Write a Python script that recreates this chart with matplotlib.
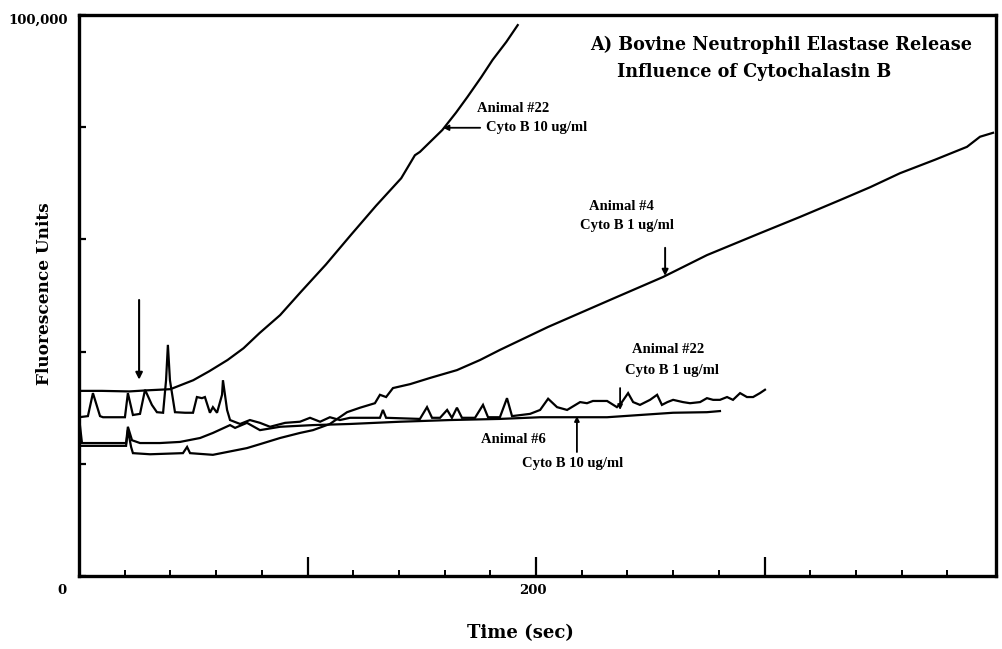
import matplotlib
matplotlib.use("Agg")
import matplotlib.pyplot as plt
from matplotlib.ticker import FixedLocator, NullFormatter, MultipleLocator

# ---- data (time in sec, fluorescence units) ----
a22_10_t = [0, 10, 22, 30, 40, 50, 57, 65, 72, 79, 88, 97, 108, 119, 130, 141, 147, 149.2, 159, 165, 170, 176, 181, 187, 192]
a22_10_v = [33000, 33000, 32900, 33100, 33300, 34900, 36500, 38500, 40600, 43300, 46500, 50600, 55500, 60800,
            66000, 70900, 75000, 75600, 79500, 82600, 85400, 88900, 92000, 95200, 98200]

a4_1_t = [0, 20.6, 21.4, 22.8, 23.6, 31.1, 45.5, 47.3, 48.6, 58.6, 64.8, 73.5, 79.2, 88.0, 96.7, 102.4, 109.8,
          117.3, 123.0, 129.5, 131.7, 134.4, 137.4, 144.9, 153.6, 165.4, 175.5, 184.2, 205.3, 234.6, 255.6,
          274.8, 298.0, 315.5, 333.0, 346.2, 359.3, 374.6, 388.6, 394.3, 400.0]
a4_1_v = [23200, 23200, 26000, 23000, 21900, 21700, 21900, 23000, 21900, 21600, 22100, 22800, 23500, 24600,
          25500, 26000, 27100, 29200, 30000, 30800, 32300, 31900, 33500, 34200, 35300, 36700, 38500, 40300,
          44400, 49600, 53300, 57200, 61100, 64000, 67000, 69300, 71800, 74200, 76500, 78300, 79000]

a22_1_t = [0, 3.9, 6.1, 9.2, 10.5, 20.1, 21.4, 23.6, 26.7, 28.9, 31.9, 34.1, 36.8, 38.1, 38.9, 39.8, 42.0, 46.4,
           49.9, 51.6, 53.8, 55.1, 57.3, 58.6, 60.4, 62.6, 63.0, 64.8, 66.1, 70.5, 74.8, 79.2, 83.6, 90.2, 96.7,
           101.1, 105.5, 109.8, 114.2, 118.6, 131.7, 133.0, 134.4, 149.2, 152.3, 154.5, 158.0, 161.1, 163.2,
           165.4, 167.6, 173.3, 176.8, 179.0, 184.2, 187.3, 189.5, 197.4, 201.8, 205.3, 209.2, 213.6, 219.3,
           222.3, 224.9, 231.1, 235.4, 237.6, 240.3, 242.5, 245.5, 249.9, 253.0, 255.1, 257.5, 260.0, 264.3,
           267.4, 271.8, 274.8, 277.5, 280.5, 283.6, 286.2, 289.3, 292.3, 295.0, 298.0, 300.2]
a22_1_v = [28300, 28500, 32600, 28500, 28300, 28300, 32600, 28700, 28900, 33200, 30500, 29200, 29100, 34900,
           41200, 34900, 29200, 29100, 29100, 31900, 31700, 31900, 29100, 30100, 29100, 32300, 34900, 29600,
           27800, 27100, 27800, 27300, 26600, 27300, 27500, 28200, 27500, 28300, 27800, 28200, 28200, 29600,
           28200, 28000, 30100, 28200, 28200, 29600, 28200, 30000, 28200, 28200, 30500, 28300, 28300, 31700,
           28500, 28900, 29600, 31600, 30100, 29600, 31000, 30800, 31200, 31200, 30100, 31000, 32600, 31000,
           30500, 31400, 32300, 30500, 31000, 31400, 31000, 30800, 31000, 31700, 31400, 31400, 31900, 31400,
           32600, 31900, 31900, 32600, 33200]

a6_10_t = [0, 0.4, 1.3, 20.6, 21.4, 23.2, 26.7, 35.4, 44.2, 53.0, 58.6, 66.1, 68.3, 73.5, 79.2, 88.0, 102.4,
           118.6, 140.5, 162.4, 184.2, 201.8, 216.2, 231.1, 245.5, 260.0, 274.8, 280.5]
a6_10_v = [23700, 26900, 23700, 23700, 26600, 24200, 23700, 23700, 23900, 24600, 25500, 26900, 26400, 27300,
           26000, 26600, 26900, 27100, 27500, 27800, 28000, 28300, 28300, 28300, 28700, 29100, 29200, 29400]

series = [(a22_10_t, a22_10_v), (a4_1_t, a4_1_v), (a22_1_t, a22_1_v), (a6_10_t, a6_10_v)]

x_major = [100, 200, 300]
x_minor = [20, 40, 60, 80, 120, 140, 160, 180, 220, 240, 260, 280, 320, 340, 360, 380]
x_max = 401.3
y_max = 100000

SERIF = ["Liberation Serif", "DejaVu Serif"]
WIDE = ["DejaVu Serif", "Liberation Serif"]

fig = plt.figure(figsize=(10.02, 6.49), dpi=100)
ax = fig.add_axes([79 / 1002, 73 / 649, (996 - 79) / 1002, (576 - 15) / 649])

for t, v in series:
    ax.plot(t, v, color="black", lw=1.6, solid_joinstyle="miter")

ax.set_xlim(0, x_max)
ax.set_ylim(0, y_max)

for sp in ax.spines.values():
    sp.set_linewidth(2.4)
    sp.set_color("black")

ax.xaxis.set_major_locator(FixedLocator(x_major))
ax.xaxis.set_minor_locator(FixedLocator(x_minor))
ax.yaxis.set_major_locator(MultipleLocator(20000))
ax.tick_params(axis="x", which="major", direction="in", length=14, width=1.6, labelbottom=False)
ax.tick_params(axis="x", which="minor", direction="in", length=4, width=1.4)
ax.tick_params(axis="y", which="major", direction="in", length=5, width=1.6, labelleft=False)
ax.xaxis.set_major_formatter(NullFormatter())
ax.yaxis.set_major_formatter(NullFormatter())

# tick labels
fig.text(68 / 1002, 1 - 20 / 649, "100,000", ha="right", va="center", family=WIDE,
         fontweight="bold", fontsize=9.5)
fig.text(62 / 1002, 1 - 591 / 649, "0", ha="center", va="center", family=WIDE,
         fontweight="bold", fontsize=9.5)
fig.text(533 / 1002, 1 - 591 / 649, "200", ha="center", va="center", family=WIDE,
         fontweight="bold", fontsize=9.5)

# axis labels
fig.text(520 / 1002, 1 - 633 / 649, "Time (sec)", ha="center", va="center", family=WIDE,
         fontweight="bold", fontsize=13)
fig.text(45 / 1002, 1 - 294 / 649, "Fluorescence Units", ha="center", va="center", rotation=90,
         family=WIDE, fontweight="bold", fontsize=12.2)

# title inside the plot
ax.text(223.6, 94600, "A) Bovine Neutrophil Elastase Release", ha="left", va="center",
        family=WIDE, fontweight="bold", fontsize=12.7)
ax.text(235.4, 89800, "Influence of Cytochalasin B", ha="left", va="center",
        family=WIDE, fontweight="bold", fontsize=12.7)

afs = 10.5
# Animal #22, 10 ug/ml
ax.text(190.0, 83400, "Animal #22", ha="center", va="center", family=SERIF, fontweight="bold", fontsize=afs)
ax.annotate("Cyto B 10 ug/ml", xy=(159.3, 79900), xytext=(178.0, 79900), ha="left", va="center",
            family=SERIF, fontweight="bold", fontsize=afs,
            arrowprops=dict(arrowstyle="-|>", color="black", lw=1.3, mutation_scale=8, shrinkA=2, shrinkB=0))
# Animal #4, 1 ug/ml
ax.text(237.6, 65900, "Animal #4", ha="center", va="center", family=SERIF, fontweight="bold", fontsize=afs)
ax.text(239.8, 62400, "Cyto B 1 ug/ml", ha="center", va="center", family=SERIF, fontweight="bold", fontsize=afs)
ax.annotate("", xy=(256.5, 53500), xytext=(256.5, 58500),
            arrowprops=dict(arrowstyle="-|>", color="black", lw=1.4, mutation_scale=9, shrinkA=0, shrinkB=0))
# Animal #22, 1 ug/ml
ax.text(257.8, 40300, "Animal #22", ha="center", va="center", family=SERIF, fontweight="bold", fontsize=afs)
ax.text(259.5, 36700, "Cyto B 1 ug/ml", ha="center", va="center", family=SERIF, fontweight="bold", fontsize=afs)
ax.annotate("", xy=(236.8, 29600), xytext=(236.8, 33500),
            arrowprops=dict(arrowstyle="-|>", color="black", lw=1.3, mutation_scale=7, shrinkA=0, shrinkB=0))
# Animal #6, 10 ug/ml
ax.text(189.9, 24400, "Animal #6", ha="center", va="center", family=SERIF, fontweight="bold", fontsize=afs)
ax.text(216.2, 20100, "Cyto B 10 ug/ml", ha="center", va="center", family=SERIF, fontweight="bold", fontsize=afs)
ax.annotate("", xy=(217.9, 28500), xytext=(217.9, 22100),
            arrowprops=dict(arrowstyle="-|>", color="black", lw=1.3, mutation_scale=7, shrinkA=0, shrinkB=0))
# addition marker
ax.annotate("", xy=(26.3, 35000), xytext=(26.3, 49200),
            arrowprops=dict(arrowstyle="-|>", color="black", lw=1.5, mutation_scale=10, shrinkA=0, shrinkB=0))

fig.savefig("out.png", dpi=100)
